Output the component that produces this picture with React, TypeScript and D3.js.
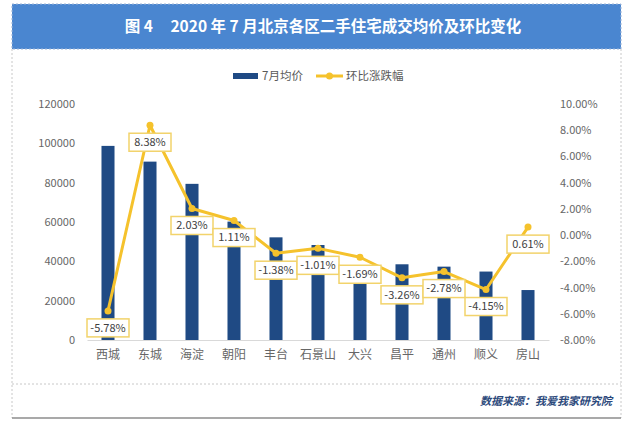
import React, { useEffect, useRef } from 'react'
import * as d3 from 'd3'

const districts = ['西城', '东城', '海淀', '朝阳', '丰台', '石景山', '大兴', '昌平', '通州', '顺义', '房山']
const avgPrice = [98700, 90700, 79400, 60200, 52200, 48300, 31000, 38500, 37300, 34800, 25400]
const momChange = [-5.78, 8.38, 2.03, 1.11, -1.38, -1.01, -1.69, -3.26, -2.78, -4.15, 0.61]
const leftTicks = [0, 20000, 40000, 60000, 80000, 100000, 120000]
const rightTicks = [-8, -6, -4, -2, 0, 2, 4, 6, 8, 10]

const W = 640
const H = 422
const FONT = '"Noto Sans CJK SC", "Noto Sans", sans-serif'

const App = () => {
  const ref = useRef<SVGGElement>(null)

  useEffect(() => {
    const g = d3.select(ref.current)
    g.selectAll('*').remove()

    const plot = { left: 87, right: 549, top: 104, bottom: 340 }

    // frame
    g.append('rect').attr('x', 12).attr('y', 4).attr('width', 609).attr('height', 45)
      .attr('fill', '#4a86d0').attr('stroke', '#9db4d6').attr('stroke-dasharray', '2,2')
    g.append('text').attr('x', 323).attr('y', 32).attr('text-anchor', 'middle')
      .attr('fill', '#fff').attr('font-size', 15.5).attr('font-weight', 'bold').attr('font-family', FONT)
      .attr('xml:space', 'preserve')
      .text('图 4     2020 年 7 月北京各区二手住宅成交均价及环比变化')
    g.append('path').attr('d', 'M12,49V418M621,49V418')
      .attr('stroke', '#c8c8c8').attr('stroke-dasharray', '2,2').attr('fill', 'none')
    g.append('line').attr('x1', 12).attr('x2', 621).attr('y1', 384).attr('y2', 384)
      .attr('stroke', '#c8c8c8').attr('stroke-dasharray', '2,2')
    g.append('line').attr('x1', 12).attr('x2', 621).attr('y1', 418).attr('y2', 418)
      .attr('stroke', '#8c8c8c').attr('stroke-width', 1.5)
    g.append('text').attr('x', 612).attr('y', 405).attr('text-anchor', 'end')
      .attr('fill', '#2d4a7c').attr('font-size', 11).attr('font-weight', 'bold')
      .attr('font-style', 'italic').attr('font-family', FONT)
      .text('数据来源：我爱我家研究院')

    const x = d3.scaleBand().domain(districts).range([plot.left, plot.right]).paddingInner(0.69).paddingOuter(0.345)
    const yL = d3.scaleLinear().domain([0, 120000]).range([plot.bottom, plot.top])
    const yR = d3.scaleLinear().domain([-8, 10]).range([plot.bottom, plot.top])
    const cx = (d: string) => (x(d) as number) + x.bandwidth() / 2

    // left axis
    const la = g.append('g').attr('transform', `translate(${plot.left - 12},0)`)
      .call(d3.axisLeft(yL).tickValues(leftTicks).tickSize(0).tickPadding(0).tickFormat(d3.format('d')))
    la.select('.domain').remove()
    la.selectAll('text').attr('fill', '#666').attr('font-size', 11).attr('font-family', FONT)

    // right axis
    const ra = g.append('g').attr('transform', `translate(${plot.right + 11},0)`)
      .call(d3.axisRight(yR).tickValues(rightTicks).tickSize(0).tickPadding(0).tickFormat(d => `${(+d).toFixed(2)}%`))
    ra.select('.domain').remove()
    ra.selectAll('text').attr('fill', '#666').attr('font-size', 11).attr('font-family', FONT)

    // x axis
    const xa = g.append('g').attr('transform', `translate(0,${plot.bottom})`)
      .call(d3.axisBottom(x).tickSize(0).tickPadding(10))
    xa.select('.domain').attr('stroke', '#d9d9d9')
    xa.selectAll('text').attr('fill', '#666').attr('font-size', 12).attr('font-family', FONT)

    // bars
    g.append('g').selectAll('rect').data(districts).enter().append('rect')
      .attr('x', d => x(d) as number)
      .attr('y', (d, i) => yL(avgPrice[i]))
      .attr('width', x.bandwidth())
      .attr('height', (d, i) => plot.bottom - yL(avgPrice[i]))
      .attr('fill', '#1f4a84')

    // line
    const line = d3.line<number>().x((d, i) => cx(districts[i])).y(d => yR(d))
    g.append('path').datum(momChange).attr('d', line)
      .attr('fill', 'none').attr('stroke', '#f5c22c').attr('stroke-width', 3).attr('stroke-linejoin', 'round')
    g.append('g').selectAll('circle').data(momChange).enter().append('circle')
      .attr('cx', (d, i) => cx(districts[i])).attr('cy', d => yR(d)).attr('r', 3.5)
      .attr('fill', '#f5c22c')

    // labels
    const lbl = g.append('g').selectAll('g').data(momChange).enter().append('g')
      .attr('transform', (d, i) => `translate(${cx(districts[i])},${yR(d) + 17})`)
    lbl.append('rect').attr('x', -21).attr('y', -9).attr('width', 42).attr('height', 18)
      .attr('fill', '#fff').attr('stroke', '#f2d36b').attr('stroke-width', 1.5)
    lbl.append('text').attr('text-anchor', 'middle').attr('dy', '0.35em')
      .attr('fill', '#404040').attr('font-size', 11).attr('font-family', FONT)
      .text(d => `${d.toFixed(2)}%`)

    // legend
    const lg = g.append('g').attr('font-family', FONT).attr('font-size', 11.5).attr('fill', '#595959')
    lg.append('rect').attr('x', 233).attr('y', 73).attr('width', 25).attr('height', 6).attr('fill', '#1f4a84')
    lg.append('text').attr('x', 262).attr('y', 80).text('7月均价')
    lg.append('line').attr('x1', 316).attr('x2', 343).attr('y1', 76).attr('y2', 76)
      .attr('stroke', '#f5c22c').attr('stroke-width', 3)
    lg.append('circle').attr('cx', 329.5).attr('cy', 76).attr('r', 3.5).attr('fill', '#f5c22c')
    lg.append('text').attr('x', 346).attr('y', 80).text('环比涨跌幅')
  }, [])

  return (
    <svg width={W} height={H} style={{ position: 'absolute', left: 0, top: 0, background: '#fff' }}>
      <g ref={ref} />
    </svg>
  )
}

export default App
